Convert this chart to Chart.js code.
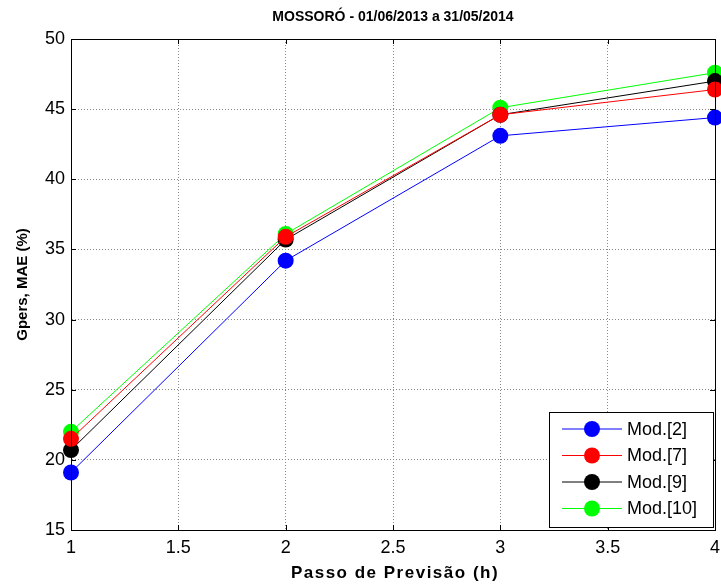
<!DOCTYPE html>
<html>
<head>
<meta charset="utf-8">
<script src="https://cdn.jsdelivr.net/npm/chart.js@4"></script>
<style>
  html, body { margin: 0; padding: 0; background: #fff; }
  #wrap { width: 721px; height: 585px; }
</style>
</head>
<body>
<div id="wrap"><canvas id="mae-chart" width="721" height="585"></canvas></div>
<script>
const steps = [1, 2, 3, 4];
const mod2 = [19.1, 34.2, 43.1, 44.4];
const mod7 = [21.5, 35.9, 44.6, 46.4];
const mod9 = [20.7, 35.7, 44.6, 47.0];
const mod10 = [22.0, 36.1, 45.1, 47.6];
const xTicks = [1, 1.5, 2, 2.5, 3, 3.5, 4];
const yTicks = [15, 20, 25, 30, 35, 40, 45, 50];

const FONT = "'Liberation Sans', Arial, sans-serif";
const canvas = document.querySelector("#mae-chart");

function makeSeries(label, values, color) {
  return {
    label: label,
    data: steps.map((s, i) => ({ x: s, y: values[i] })),
    borderColor: color,
    backgroundColor: color,
    borderWidth: 1,
    pointRadius: 8,
    pointHoverRadius: 8,
    pointBorderWidth: 0,
    tension: 0,
    clip: false,
  };
}

// box, inward ticks, title, x label and legend drawn like the matlab figure
const matlabFrame = {
  id: "matlabFrame",
  afterDraw(chart) {
    const { ctx, chartArea: a, scales } = chart;
    ctx.save();
    ctx.strokeStyle = "#000";
    ctx.lineWidth = 1;
    ctx.strokeRect(a.left + 0.5, a.top + 0.5, a.right - a.left, a.bottom - a.top);

    ctx.beginPath();
    for (const t of xTicks) {
      const px = Math.round(scales.x.getPixelForValue(t)) + 0.5;
      ctx.moveTo(px, a.bottom); ctx.lineTo(px, a.bottom - 5);
      ctx.moveTo(px, a.top); ctx.lineTo(px, a.top + 5);
    }
    for (const t of yTicks) {
      const py = Math.round(scales.y.getPixelForValue(t)) + 0.5;
      ctx.moveTo(a.left, py); ctx.lineTo(a.left + 5, py);
      ctx.moveTo(a.right, py); ctx.lineTo(a.right - 5, py);
    }
    ctx.stroke();

    ctx.fillStyle = "#000";
    ctx.font = "bold 14px " + FONT;
    ctx.textAlign = "center";
    ctx.textBaseline = "middle";
    ctx.fillText("MOSSORÓ - 01/06/2013 a 31/05/2014", (a.left + a.right) / 2, 17);

    ctx.font = "bold 17px " + FONT;
    ctx.letterSpacing = "1.5px";
    ctx.fillText("Passo de Previsão (h)", (a.left + a.right) / 2 + 2, 573);
    ctx.letterSpacing = "0px";

    // legend box
    const lx = 549, ly = 412, lw = 164, lh = 115;
    ctx.fillStyle = "#fff";
    ctx.fillRect(lx, ly, lw, lh);
    ctx.strokeRect(lx + 0.5, ly + 0.5, lw, lh);
    ctx.font = "18px " + FONT;
    ctx.textAlign = "left";
    chart.data.datasets.forEach((ds, i) => {
      const cy = ly + 17 + i * 26.5;
      ctx.strokeStyle = ds.borderColor;
      ctx.beginPath();
      ctx.moveTo(lx + 13, cy); ctx.lineTo(lx + 73, cy);
      ctx.stroke();
      ctx.fillStyle = ds.backgroundColor;
      ctx.beginPath();
      ctx.arc(lx + 43, cy, 8, 0, Math.PI * 2);
      ctx.fill();
      ctx.fillStyle = "#000";
      ctx.fillText(ds.label, lx + 78, cy + 1);
    });
    ctx.restore();
  },
};

new Chart(canvas, {
  type: "line",
  data: {
    datasets: [
      makeSeries("Mod.[2]", mod2, "#0000ff"),
      makeSeries("Mod.[7]", mod7, "#ff0000"),
      makeSeries("Mod.[9]", mod9, "#000000"),
      makeSeries("Mod.[10]", mod10, "#00ff00"),
    ],
  },
  options: {
    responsive: false,
    animation: false,
    layout: { autoPadding: false, padding: { top: 39, right: 6, left: 0, bottom: 0 } },
    plugins: {
      legend: { display: false },
      title: { display: false },
      tooltip: { enabled: false },
    },
    scales: {
      x: {
        type: "linear",
        min: 1,
        max: 4,
        afterBuildTicks: (scale) => { scale.ticks = xTicks.map((v) => ({ value: v })); },
        afterFit: (scale) => {
          scale.height = 55;
          scale.paddingLeft = 0;
          scale.paddingRight = 0;
        },
        grid: { color: "#888", drawTicks: false },
        border: { color: "#000", dash: [1, 2] },
        ticks: {
          color: "#000",
          font: { family: FONT, size: 18 },
          padding: 7,
          maxRotation: 0,
          callback: (v) => String(v),
        },
        title: { display: false },
      },
      y: {
        min: 15,
        max: 50,
        afterBuildTicks: (scale) => { scale.ticks = yTicks.map((v) => ({ value: v })); },
        afterFit: (scale) => { scale.width = 71; },
        grid: { color: "#888", drawTicks: false },
        border: { color: "#000", dash: [1, 2] },
        ticks: { color: "#000", font: { family: FONT, size: 18 }, padding: 6 },
        title: {
          display: true,
          text: "Gpers, MAE (%)",
          color: "#000",
          font: { family: FONT, size: 15, weight: "bold" },
          padding: { top: 14, bottom: 4 },
        },
      },
    },
  },
  plugins: [matlabFrame],
});
</script>
</body>
</html>
